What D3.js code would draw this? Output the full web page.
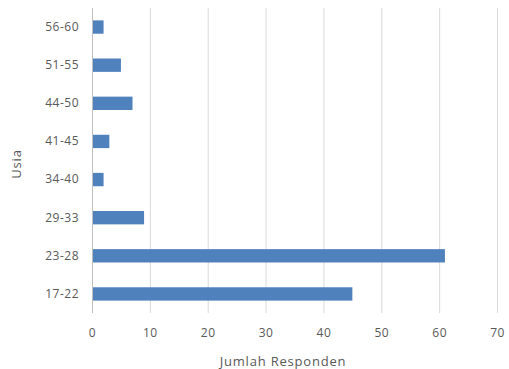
<!DOCTYPE html>
<html><head><meta charset="utf-8">
<script src="https://cdn.jsdelivr.net/npm/d3@7"></script>
<style>body{margin:0;background:#fff}text{font-family:"Open Sans",sans-serif;fill:#595959}</style>
</head><body><svg id="c" width="509" height="369"></svg>
<script>
const categories = ["17-22","23-28","29-33","34-40","41-45","44-50","51-55","56-60"];
const values = [45, 61, 9, 2, 3, 7, 5, 2];
const xTicks = [0,10,20,30,40,50,60,70];
const xTitle = "Jumlah Responden";
const yTitle = "Usia";

const svg = d3.select("#c");
const m = {left:92, right:12, top:8, bottom:56};
const x = d3.scaleLinear().domain([0,70]).range([m.left, 497]);
const y = d3.scaleBand().domain(categories.slice().reverse()).range([m.top, 313]).paddingInner(0.65).paddingOuter(0.325);

svg.append("g").selectAll("line").data(xTicks).join("line")
  .attr("x1", d=>x(d)+0.5).attr("x2", d=>x(d)+0.5)
  .attr("y1", m.top).attr("y2", 313)
  .attr("stroke", d=> d===0 ? "#bfbfbf" : "#d9d9d9").attr("stroke-width",1);

svg.append("g").selectAll("rect").data(categories).join("rect")
  .attr("x", x(0)+1).attr("y", d=>y(d))
  .attr("width", (d,i)=>x(values[i])-x(0)-1).attr("height", y.bandwidth())
  .attr("fill", "#4f81bd");

const xa = d3.axisBottom(x).tickValues(xTicks).tickSize(0).tickPadding(0);
svg.append("g").attr("transform","translate(0,337)").call(xa)
  .call(g=>g.select(".domain").remove())
  .selectAll("text").attr("dy",0).attr("font-size","12px").style("letter-spacing","0.5px").style("font-family","'Open Sans',sans-serif");

const ya = d3.axisLeft(y).tickSize(0).tickPadding(13);
svg.append("g").attr("transform",`translate(${m.left},0)`).call(ya)
  .call(g=>g.select(".domain").remove())
  .selectAll("text").attr("font-size","12px").style("letter-spacing","0.5px").style("font-family","'Open Sans',sans-serif");

svg.append("text").attr("x", 283).attr("y", 366).attr("text-anchor","middle")
  .attr("font-size","13px").style("letter-spacing","0.8px").text(xTitle);
svg.append("text").attr("transform","translate(21,164) rotate(-90)").attr("text-anchor","middle")
  .attr("font-size","13px").style("letter-spacing","0.8px").text(yTitle);
</script></body></html>
